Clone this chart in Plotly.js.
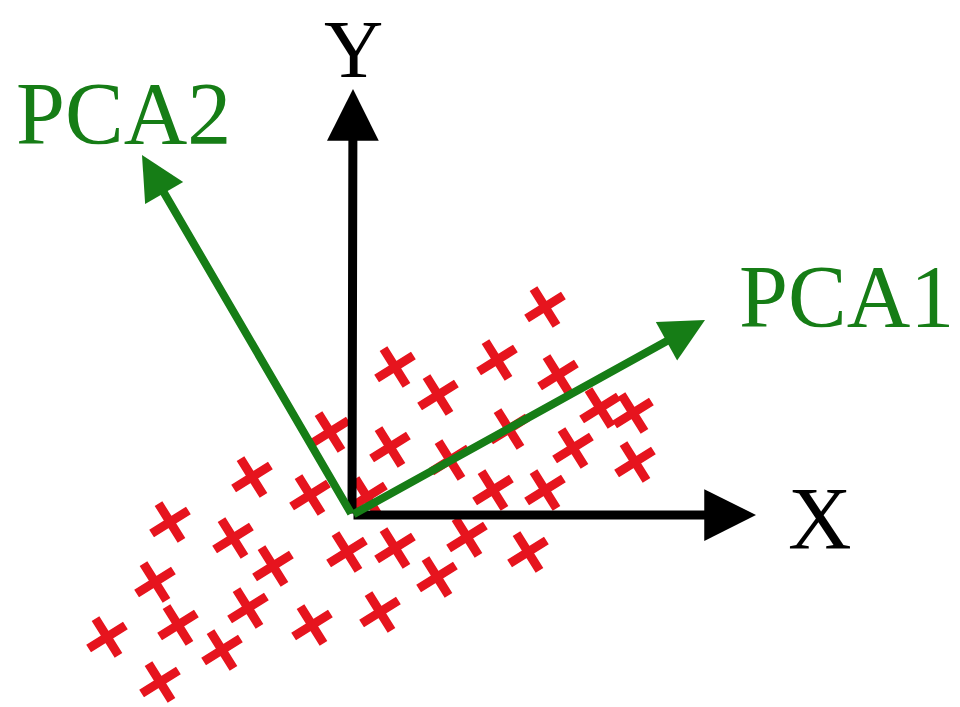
<!DOCTYPE html>
<html>
<head>
<meta charset="utf-8">
<script src="https://cdn.plot.ly/plotly-3.0.1.min.js"></script>
<style>html,body{margin:0;padding:0;background:#fff;}#chart{width:960px;height:707px;}</style>
</head>
<body>
<div id="chart"></div>
<script>
// Sample points (x, y) relative to the origin of the X/Y axes
const sampleX = [193, 43, 145, 86, 206, 248, 281, -22, 38, 157, 221, 283, 98, -100, -42, 15, 141, 193, -182, -119, -5, 43, 115, 176, -79, -197, 85, -104, -174, -40, 28, -245, -130, -192];
const sampleY = [208, 148, 155, 120, 140, 107, 102, 83, 68, 86, 67, 53, 55, 38, 20, 18, 25, 25, -7, -23, -37, -33, -22, -37, -51, -67, -62, -93, -110, -110, -97, -122, -135, -167];

// Axis / component arrows: tip coordinates
const axisNames = ['X', 'Y'];
const axisTipX = [404, 1];
const axisTipY = [0, 426];
const pcaNames = ['PCA1', 'PCA2'];
const pcaTipX = [353, -210];
const pcaTipY = [195, 360];

// Label positions
const labelText = ['X', 'Y', 'PCA1', 'PCA2'];
const labelX = [468, 1, 494, -229];
const labelY = [-3, 466, 219, 402];
const labelSize = [88, 82, 88, 88];

const green = 'rgb(22,125,22)';
const red = 'rgb(230,20,30)';

const traces = [{
  type: 'scatter', mode: 'markers',
  x: sampleX, y: sampleY,
  marker: {symbol: 'cross-thin', size: 31, angle: -32, color: red,
           line: {color: red, width: 9}},
  hoverinfo: 'skip'
}];

const annotations = [];
axisNames.forEach((n, i) => {
  annotations.push({x: axisTipX[i], y: axisTipY[i], ax: 0, ay: 0, axref: 'x', ayref: 'y',
    xref: 'x', yref: 'y', text: '', showarrow: true, arrowhead: 2, arrowsize: 1.15,
    arrowwidth: 9, arrowcolor: '#000', standoff: 0, startstandoff: 0});
});
pcaNames.forEach((n, i) => {
  annotations.push({x: pcaTipX[i], y: pcaTipY[i], ax: 0, ay: 0, axref: 'x', ayref: 'y',
    xref: 'x', yref: 'y', text: '', showarrow: true, arrowhead: 2, arrowsize: 1.1,
    arrowwidth: 8, arrowcolor: green, standoff: 0, startstandoff: 0});
});
labelText.forEach((t, i) => {
  annotations.push({x: labelX[i], y: labelY[i], xref: 'x', yref: 'y', text: t, showarrow: false,
    xanchor: 'center', yanchor: 'middle',
    font: {family: 'Liberation Serif, Times New Roman, serif', size: labelSize[i],
           color: t.startsWith('PCA') ? green : '#000'}});
});

const layout = {
  width: 960, height: 707,
  margin: {l: 0, r: 0, t: 0, b: 0, pad: 0},
  paper_bgcolor: '#fff', plot_bgcolor: '#fff',
  showlegend: false,
  xaxis: {range: [-352, 608], visible: false, fixedrange: true},
  yaxis: {range: [-192, 515], visible: false, fixedrange: true},
  annotations: annotations
};

Plotly.newPlot('chart', traces, layout, {staticPlot: true, displayModeBar: false});
</script>
</body>
</html>
